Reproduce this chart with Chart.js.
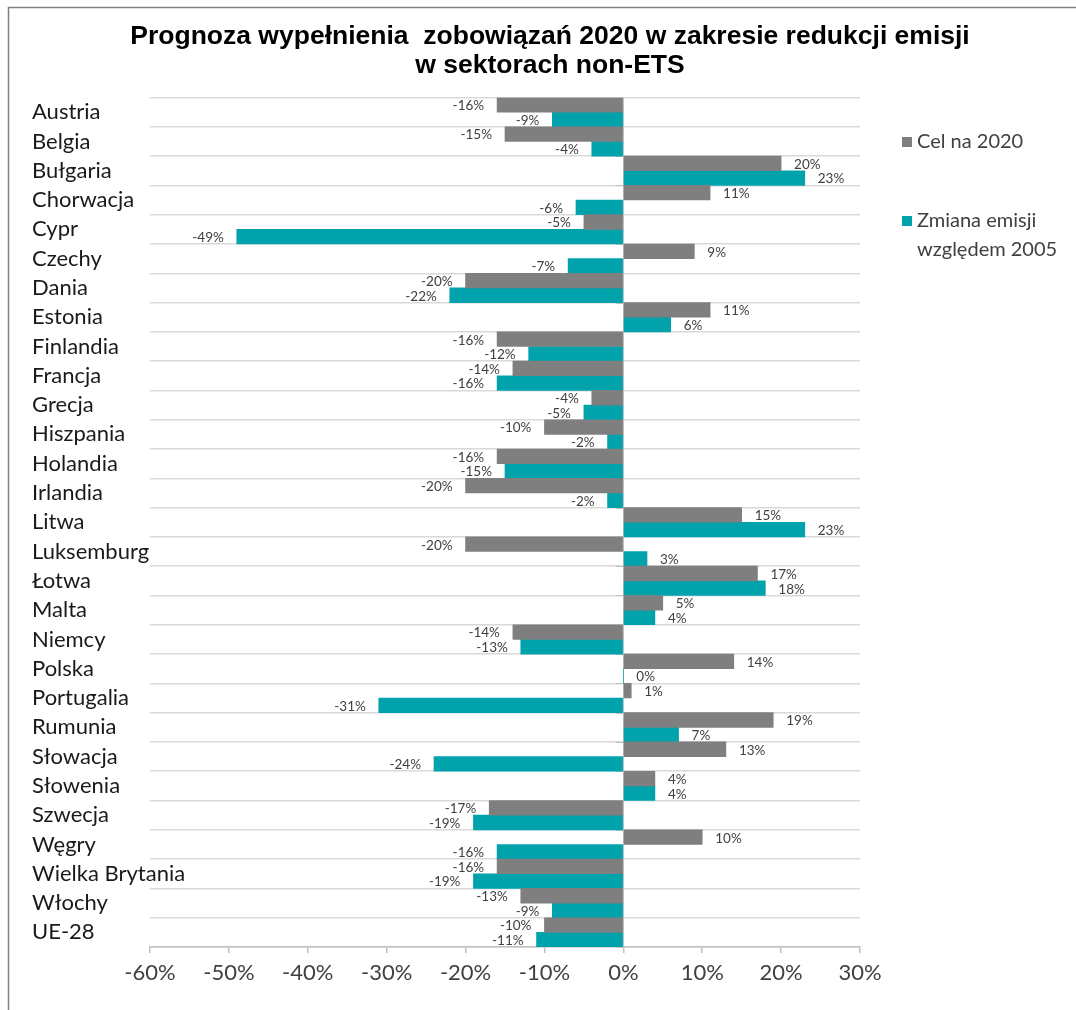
<!DOCTYPE html>
<html>
<head>
<meta charset="utf-8">
<script src="https://cdn.jsdelivr.net/npm/chart.js@4.4.0/dist/chart.umd.min.js"></script>
<style>
  html, body { margin: 0; padding: 0; background: #ffffff; }
  #wrap { position: relative; width: 1076px; height: 1010px; }
</style>
</head>
<body>
<div id="wrap"><canvas id="c" width="1076" height="1010"></canvas></div>
<script>
const titleLines = ['Prognoza wypełnienia  zobowiązań 2020 w zakresie redukcji emisji', 'w sektorach non-ETS'];
const categories = ['Austria','Belgia','Bułgaria','Chorwacja','Cypr','Czechy','Dania','Estonia','Finlandia','Francja','Grecja','Hiszpania','Holandia','Irlandia','Litwa','Luksemburg','Łotwa','Malta','Niemcy','Polska','Portugalia','Rumunia','Słowacja','Słowenia','Szwecja','Węgry','Wielka Brytania','Włochy','UE-28'];
const target2020 = [-16,-15,20,11,-5,9,-20,11,-16,-14,-4,-10,-16,-20,15,-20,17,5,-14,14,1,19,13,4,-17,10,-16,-13,-10];
const change2005 = [-9,-4,23,-6,-49,-7,-22,6,-12,-16,-5,-2,-15,-2,23,3,18,4,-13,0,-31,7,-24,4,-19,-16,-19,-9,-11];
const seriesNames = ['Cel na 2020', ['Zmiana emisji', 'względem 2005']];
const xTicks = [-60,-50,-40,-30,-20,-10,0,10,20,30];

const GRAY = '#7f7f7f';
const TEAL = '#00a2ac';
const CAL = 'Lato, "Open Sans", sans-serif';

const framePlugin = {
  id: 'frame',
  beforeDraw(chart) {
    const ctx = chart.ctx;
    ctx.save();
    ctx.fillStyle = '#ffffff';
    ctx.fillRect(0, 0, chart.width, chart.height);
    ctx.strokeStyle = '#808080';
    ctx.lineWidth = 1.5;
    ctx.beginPath();
    ctx.moveTo(8.5, chart.height);
    ctx.lineTo(8.5, 7.5);
    ctx.lineTo(chart.width, 7.5);
    ctx.stroke();
    ctx.restore();
  },
  beforeDatasetsDraw(chart) {
    const ctx = chart.ctx;
    const xs = chart.scales.x;
    const x0 = Math.round(xs.getPixelForValue(0)) + 0.5;
    ctx.save();
    ctx.strokeStyle = '#bfbfbf';
    ctx.lineWidth = 1;
    ctx.beginPath();
    ctx.moveTo(x0, chart.chartArea.top);
    ctx.lineTo(x0, chart.chartArea.bottom);
    const n = categories.length;
    const step = (chart.chartArea.bottom - chart.chartArea.top) / n;
    for (let i = 0; i <= n; i++) {
      const y = Math.round(chart.chartArea.top + i * step) + 0.5;
      ctx.moveTo(x0 - 8, y);
      ctx.lineTo(x0, y);
    }
    ctx.stroke();
    ctx.restore();
  },
  afterDatasetsDraw(chart) {
    const ctx = chart.ctx;
    ctx.save();
    ctx.font = '13.5px ' + CAL;
    ctx.fillStyle = '#404040';
    ctx.textBaseline = 'middle';
    chart.data.datasets.forEach((ds, di) => {
      const meta = chart.getDatasetMeta(di);
      meta.data.forEach((el, i) => {
        const v = ds.data[i];
        const txt = v + '%';
        if (v >= 0) {
          ctx.textAlign = 'left';
          ctx.fillText(txt, el.x + 13, el.y + 1);
        } else {
          ctx.textAlign = 'right';
          ctx.fillText(txt, el.x - 13, el.y + 1);
        }
      });
    });
    ctx.restore();
  },
  afterDraw(chart) {
    const ctx = chart.ctx;
    ctx.save();
    ctx.fillStyle = '#000000';
    ctx.font = 'bold 26.5px "Liberation Sans", Arial, sans-serif';
    ctx.textAlign = 'center';
    ctx.textBaseline = 'middle';
    ctx.fillText(titleLines[0], 550, 37);
    ctx.fillText(titleLines[1], 550, 66);
    ctx.font = '20px ' + CAL;
    ctx.textAlign = 'left';
    ctx.fillStyle = GRAY;
    ctx.fillRect(902, 137, 10, 10);
    ctx.fillStyle = TEAL;
    ctx.fillRect(902, 216, 10, 10);
    ctx.fillStyle = '#404040';
    ctx.fillText(seriesNames[0], 917, 142);
    ctx.fillText(seriesNames[1][0], 917, 221);
    ctx.fillText(seriesNames[1][1], 917, 250);
    ctx.restore();
  }
};

new Chart(document.getElementById('c'), {
  type: 'bar',
  data: {
    labels: categories,
    datasets: [
      { label: 'Cel na 2020', data: target2020, backgroundColor: GRAY, barPercentage: 1, categoryPercentage: 1 },
      { label: 'Zmiana emisji względem 2005', data: change2005, backgroundColor: TEAL, barPercentage: 1, categoryPercentage: 1 }
    ]
  },
  options: {
    indexAxis: 'y',
    responsive: false,
    animation: false,
    layout: { padding: { left: 32, right: 216, top: 97.5, bottom: 0 } },
    plugins: { legend: { display: false }, title: { display: false }, tooltip: { enabled: false } },
    scales: {
      x: {
        min: -60, max: 30,
        afterBuildTicks(scale) { scale.ticks = xTicks.map(v => ({ value: v })); },
        afterFit(scale) { scale.height = 63; },
        ticks: {
          callback: v => v + '%',
          color: '#404040',
          font: { family: CAL, size: 22 },
          padding: 7,
          maxRotation: 0
        },
        grid: { drawOnChartArea: false, drawTicks: true, tickLength: 6, color: '#bfbfbf', lineWidth: 1.5 },
        border: { display: true, color: '#bfbfbf', width: 1.5 }
      },
      y: {
        afterFit(scale) {
          scale.width = 118;
          scale._computeLabelArea = () => undefined;
        },
        ticks: {
          crossAlign: 'far',
          color: '#1a1a1a',
          font: { family: CAL, size: 22 },
          autoSkip: false
        },
        grid: { color: '#d9d9d9', lineWidth: 1.5, drawTicks: false, offset: true },
        border: { display: false }
      }
    }
  },
  plugins: [framePlugin]
});
</script>
</body>
</html>
